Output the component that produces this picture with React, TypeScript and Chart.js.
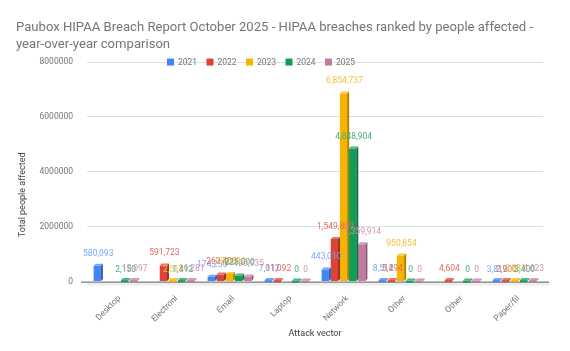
import React, { useEffect, useRef } from "react";
import { Chart, registerables } from "chart.js";

Chart.register(...registerables);

const categories = ["Desktop", "Electroni", "Email", "Laptop", "Network", "Other", "Other", "Paper/fil"];
const years = ["2021", "2022", "2023", "2024", "2025"];
const v2021 = [580093, null, 174250, 7012, 443010, 8512, null, 3812];
const v2022 = [null, 591723, 262400, 11092, 1549809, 5494, 4604, 2900];
const v2023 = [null, 2513, 279000, null, 6854737, 950854, null, 9331];
const v2024 = [2150, 1412, 225000, 0, 4848904, 0, 0, 3400];
const v2025 = [12097, 16281, 190935, 0, 1359914, 0, 0, 4623];
const yTicks = [0, 2000000, 4000000, 6000000, 8000000];

const seriesValues = [v2021, v2022, v2023, v2024, v2025];
const colors = ["#4285F4", "#DB4437", "#F4B400", "#0F9D58", "#C27BA0"];
const darkColors = ["#2f5fb0", "#9c3027", "#ad8000", "#0a6e3e", "#8a5772"];
const lightColors = ["#6fa3f7", "#e57368", "#f7c54a", "#4fb486", "#d29cba"];
const labelColors = ["#7aa9f6", "#e26a60", "#f5bf3a", "#46b07e", "#d095b5"];

const FONT = "Roboto";

const bar3d = {
  id: "bar3d",
  beforeDatasetsDraw(chart: any) {
    const { ctx, chartArea } = chart;
    const y0 = chart.scales.y.getPixelForValue(0);
    ctx.save();
    ctx.fillStyle = "#eeeeee";
    ctx.fillRect(chartArea.left, y0, chartArea.right - chartArea.left + 6, 4);
    ctx.strokeStyle = "#616161";
    ctx.lineWidth = 1;
    ctx.beginPath();
    ctx.moveTo(chartArea.left - 6, y0 + 0.5);
    ctx.lineTo(chartArea.right + 6, y0 + 0.5);
    ctx.stroke();
    ctx.restore();
  },
  afterDatasetsDraw(chart: any) {
    const { ctx } = chart;
    const d = 2;
    ctx.save();
    chart.data.datasets.forEach((ds: any, i: number) => {
      const meta = chart.getDatasetMeta(i);
      meta.data.forEach((el: any, j: number) => {
        const v = ds.data[j];
        if (v === null || v === undefined) return;
        const p = el.getProps(["x", "y", "base", "width"], true);
        const l = p.x - p.width / 2;
        const r = p.x + p.width / 2;
        const top = Math.min(p.y, p.base - 1);
        ctx.fillStyle = darkColors[i];
        ctx.beginPath();
        ctx.moveTo(r, top);
        ctx.lineTo(r + d, top - d);
        ctx.lineTo(r + d, p.base - d);
        ctx.lineTo(r, p.base);
        ctx.closePath();
        ctx.fill();
        ctx.fillStyle = lightColors[i];
        ctx.beginPath();
        ctx.moveTo(l, top);
        ctx.lineTo(l + d, top - d);
        ctx.lineTo(r + d, top - d);
        ctx.lineTo(r, top);
        ctx.closePath();
        ctx.fill();
        if (p.base - p.y < 1) {
          ctx.fillStyle = colors[i];
          ctx.fillRect(l, p.base - 1, p.width, 2);
        }
      });
    });
    ctx.restore();
  },
};

const valueLabels = {
  id: "valueLabels",
  afterDatasetsDraw(chart: any) {
    const { ctx } = chart;
    ctx.save();
    ctx.font = `8.5px ${FONT}`;
    ctx.textAlign = "center";
    ctx.textBaseline = "alphabetic";
    chart.data.datasets.forEach((ds: any, i: number) => {
      const meta = chart.getDatasetMeta(i);
      meta.data.forEach((el: any, j: number) => {
        const v = ds.data[j];
        if (v === null || v === undefined) return;
        const p = el.getProps(["x", "y"], true);
        ctx.fillStyle = labelColors[i];
        ctx.fillText(Number(v).toLocaleString("en-US"), p.x + 1, p.y - 10);
      });
    });
    ctx.restore();
  },
};

const customLegend = {
  id: "customLegend",
  afterDraw(chart: any) {
    const { ctx, chartArea } = chart;
    ctx.save();
    ctx.font = `8.5px ${FONT}`;
    ctx.textBaseline = "middle";
    ctx.textAlign = "left";
    const y = chartArea.top;
    let x = 167;
    chart.data.datasets.forEach((ds: any, i: number) => {
      ctx.fillStyle = colors[i];
      ctx.fillRect(x, y - 3.5, 7, 7);
      ctx.fillStyle = "#757575";
      ctx.fillText(ds.label, x + 11, y + 0.5);
      x += 39.5;
    });
    ctx.translate(23, (chartArea.top + chartArea.bottom) / 2 + 23);
    ctx.rotate(-Math.PI / 2);
    ctx.textAlign = "center";
    ctx.fillStyle = "#424242";
    ctx.font = `9px ${FONT}`;
    ctx.fillText("Total people affected", 0, 0);
    ctx.restore();
  },
};

export default function App() {
  const ref = useRef<HTMLCanvasElement | null>(null);
  useEffect(() => {
    if (!ref.current) return;
    const chart = new Chart(ref.current, {
      type: "bar",
      data: {
        labels: categories,
        datasets: years.map((y, i) => ({
          label: y,
          data: seriesValues[i] as any,
          backgroundColor: colors[i],
          borderWidth: 0,
          categoryPercentage: 0.8,
          barPercentage: 0.8,
        })),
      },
      options: {
        animation: false,
        responsive: false,
        maintainAspectRatio: false,
        layout: { padding: { left: 16, right: 27, bottom: 8, top: 0 } },
        plugins: {
          legend: { display: false },
          tooltip: { enabled: false },
          title: {
            display: true,
            text: [
              "Paubox HIPAA Breach Report October 2025 - HIPAA breaches ranked by people affected -",
              "year-over-year comparison",
            ],
            align: "start",
            color: "#757575",
            font: { family: FONT, size: 13.1, weight: "normal" as any, lineHeight: 1.3 },
            padding: { top: 19, bottom: 9 },
          },
        },
        scales: {
          x: {
            grid: { display: false },
            border: { display: false },
            ticks: {
              color: "#757575",
              font: { family: FONT, size: 8.5 },
              maxRotation: 45,
              minRotation: 45,
              autoSkip: false,
              padding: 4,
              labelOffset: 4,
            },
            title: {
              display: true,
              text: "Attack vector",
              color: "#424242",
              font: { family: FONT, size: 9 },
              padding: { top: 0, bottom: 4 },
            },
          },
          y: {
            min: 0,
            max: 8000000,
            afterBuildTicks: (axis: any) => {
              axis.ticks = yTicks.map((v) => ({ value: v }));
            },
            afterFit: (axis: any) => {
              axis.width = 71;
            },
            grid: {
              color: (c: any) => (c.tick && c.tick.value === 0 ? "rgba(0,0,0,0)" : "#e0e0e0"),
              drawTicks: false,
            },
            border: { display: false },
            ticks: {
              color: "#757575",
              font: { family: FONT, size: 8.5 },
              padding: 14,
              callback: (v: any) => String(v),
            },
          },
        },
      },
      plugins: [bar3d, valueLabels, customLegend],
    });
    return () => chart.destroy();
  }, []);
  return (
    <div style={{ position: "fixed", left: 0, top: 0, width: 570, height: 351, background: "#fff" }}>
      <canvas ref={ref} width={570} height={351} style={{ width: 570, height: 351 }} />
    </div>
  );
}
